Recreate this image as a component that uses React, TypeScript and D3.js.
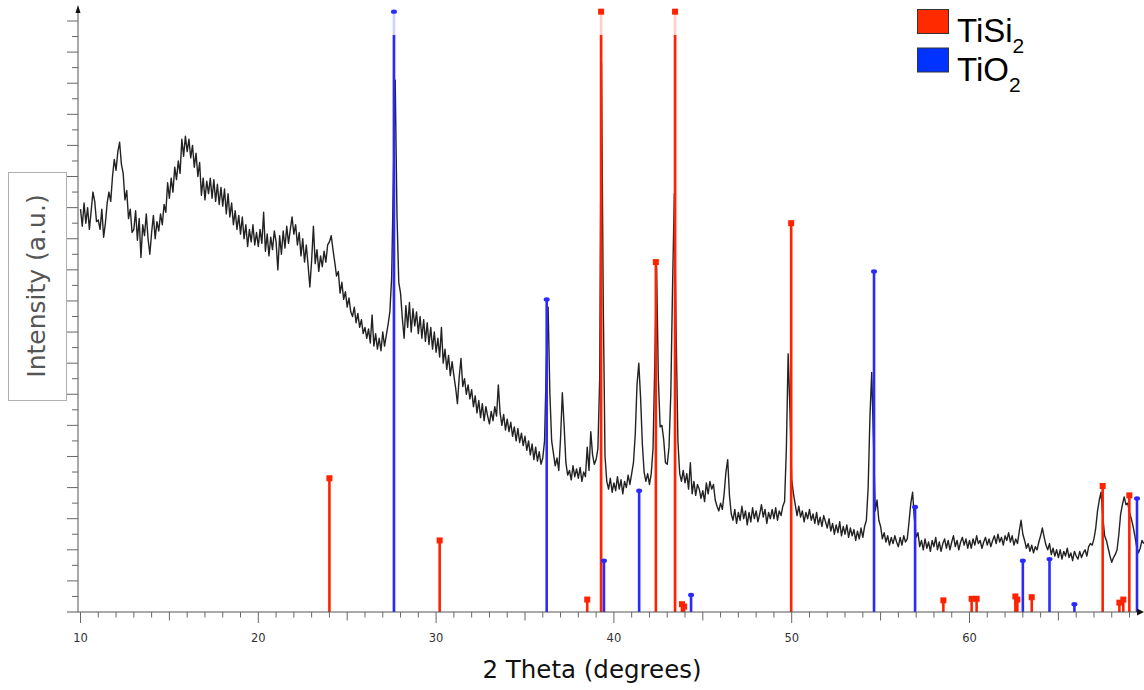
import React from 'react'
import * as d3 from 'd3'

const WIDTH = 1144
const HEIGHT = 690

// measured pattern, step scan from 10 deg, 0.1 deg step (a.u.)
const THETA_START = 10
const THETA_STEP = 0.1
const intensity = [
  25.9, 24.8, 26.3, 25.0, 26.0, 24.6, 25.8, 27.0, 26.4, 25.1,
  25.2, 24.6, 25.9, 24.1, 25.0, 26.3, 27.0, 26.4, 28.0, 29.1,
  28.4, 29.6, 30.2, 28.8, 28.2, 26.5, 27.1, 25.3, 25.9, 24.4,
  24.6, 25.8, 23.9, 25.3, 22.8, 24.9, 24.2, 25.6, 24.0, 23.0,
  24.4, 25.5, 24.0, 25.1, 24.5, 25.6, 24.9, 26.2, 25.7, 27.6,
  26.6, 27.9, 27.0, 28.6, 27.8, 29.0, 28.2, 30.4, 29.3, 30.6,
  29.6, 30.4, 29.2, 30.0, 28.6, 29.5, 28.0, 28.9, 26.8, 27.9,
  26.5, 27.7, 26.9, 27.9, 26.6, 27.8, 26.4, 27.5, 26.2, 27.3,
  26.1, 27.2, 25.6, 26.9, 25.4, 26.3, 24.9, 25.8, 24.6, 25.5,
  24.3, 25.4, 24.0, 24.9, 23.5, 24.6, 23.8, 24.9, 23.6, 24.4,
  23.5, 24.6, 23.7, 25.7, 23.2, 24.3, 22.9, 24.1, 23.3, 24.5,
  23.8, 22.0, 24.2, 23.0, 24.5, 23.4, 24.8, 23.7, 24.6, 25.4,
  24.3, 24.9, 23.6, 24.4, 22.9, 24.0, 22.5, 23.6, 22.3, 20.9,
  22.6, 24.8, 22.4, 23.3, 21.9, 22.9, 22.2, 23.2, 22.5, 23.6,
  23.8, 24.2, 23.3, 22.5, 21.6, 21.9, 20.5, 21.2, 20.1, 20.6,
  19.6, 20.2, 19.3, 19.0, 19.6, 18.6, 19.2, 18.3, 18.8, 17.9,
  18.3, 17.6, 18.2, 17.3, 19.1, 17.1, 17.9, 16.9, 17.6, 16.8,
  18.0, 17.1, 17.8, 18.5, 19.3, 21.5, 28.0, 34.2, 25.5, 21.2,
  20.5, 18.9, 17.6, 19.7, 18.3, 19.9, 18.0, 19.5, 18.4, 19.3,
  17.9, 19.0, 17.6, 18.8, 17.4, 18.6, 17.2, 18.3, 16.9, 18.0,
  16.7, 17.6, 16.4, 18.3, 16.0, 16.9, 15.6, 16.5, 15.2, 16.1,
  15.2, 14.4, 13.4, 15.1, 16.3, 14.5, 15.0, 14.0, 14.6, 13.7,
  14.3, 13.2, 13.9, 12.8, 13.6, 12.5, 13.4, 12.3, 13.2, 12.6,
  12.1, 12.9, 12.3, 13.2, 12.6, 14.6, 12.8, 12.0, 12.7, 11.7,
  12.4, 11.6, 12.2, 11.3, 11.9, 11.0, 11.8, 10.9, 11.5, 10.7,
  11.3, 10.4, 11.0, 10.1, 10.8, 9.8, 10.6, 9.7, 10.3, 9.5,
  9.9, 11.0, 16.0, 19.6, 14.0, 11.0, 10.2, 9.4, 9.9, 9.1,
  11.2, 14.1, 12.0, 9.6, 8.8, 9.1, 8.5, 9.4, 8.7, 9.2,
  8.6, 9.3, 8.4, 9.0, 8.7, 10.6, 9.1, 11.6, 10.1, 9.5,
  9.8, 10.5, 15.0, 35.3, 20.0, 10.0, 8.4, 7.9, 8.6, 7.7,
  8.3, 7.8, 8.7, 7.9, 8.5, 7.6, 8.4, 8.0, 8.8, 8.2,
  8.9, 9.6, 11.4, 14.6, 16.0, 13.8, 10.8, 9.0, 8.4, 8.9,
  8.2, 8.9, 10.5, 16.0, 22.2, 15.0, 11.9, 12.0, 11.1, 9.6,
  9.5, 10.6, 14.0, 21.0, 26.9, 18.0, 11.0, 8.9, 8.4, 9.1,
  8.3, 8.9, 7.9, 9.6, 7.6, 8.4, 7.5, 8.2, 7.9, 7.3,
  7.8, 7.1, 8.3, 7.6, 8.4, 7.9, 8.2, 7.2, 6.8, 6.5,
  7.0, 6.6, 7.6, 9.0, 9.8, 7.5, 6.3, 5.9, 6.6, 5.7,
  6.4, 5.9, 6.8, 6.0, 6.5, 5.6, 6.4, 5.8, 6.7, 6.0,
  6.5, 5.8, 6.3, 6.9, 6.1, 6.6, 5.7, 6.4, 6.0, 6.6,
  6.0, 6.7, 5.9, 6.5, 6.2, 6.8, 7.1, 10.5, 16.6, 13.0,
  8.5, 7.6, 6.9, 6.2, 6.8, 6.1, 6.5, 5.8, 6.4, 6.0,
  6.6, 5.9, 6.3, 5.7, 6.4, 5.6, 6.1, 5.5, 6.2, 5.8,
  5.4, 6.0, 5.2, 5.7, 5.0, 5.6, 5.1, 5.8, 4.9, 5.5,
  5.0, 5.6, 4.8, 5.4, 4.9, 5.3, 4.6, 5.2, 4.7, 5.4,
  4.8, 5.5, 5.9, 8.0, 12.5, 15.4, 11.0, 6.5, 7.2, 5.9,
  5.5, 4.7, 5.1, 4.5, 4.9, 4.3, 4.8, 4.4, 4.9, 4.5,
  4.2, 4.8, 4.3, 4.9, 4.5, 4.7, 5.8, 7.0, 7.7, 6.0,
  4.8, 5.1, 4.2, 4.6, 4.0, 4.7, 4.1, 4.5, 3.9, 4.6,
  4.2, 4.8, 4.0, 4.5, 3.9, 4.4, 4.7, 4.1, 4.6, 4.0,
  4.5, 4.9, 4.2, 4.6, 4.0, 4.5, 4.8, 4.3, 4.7, 4.1,
  4.6, 4.1, 4.7, 4.3, 4.9, 4.4, 4.6, 4.1, 4.5, 4.8,
  4.3, 4.7, 4.2, 4.6, 4.9, 4.4, 5.0, 4.5, 4.8, 4.3,
  4.9, 4.6, 5.1, 4.5, 4.9, 4.3, 4.7, 4.4, 5.2, 5.9,
  5.0, 4.6, 4.1, 4.4, 3.9, 4.3, 3.8, 4.2, 4.0, 4.5,
  4.9, 5.4, 4.8, 4.3, 4.0, 4.4, 3.7, 4.1, 3.6, 4.0,
  3.5, 4.0, 3.4, 3.9, 3.6, 4.1, 3.5, 3.8, 3.3, 3.9,
  3.6, 3.4, 3.9, 3.5, 3.8, 4.0, 3.6, 4.2, 4.4, 4.3,
  4.7, 5.4, 6.5, 7.2, 7.7, 6.1, 4.9, 4.6, 4.1, 3.6,
  3.2, 3.5, 3.7, 4.0, 5.0, 6.3, 6.9, 7.4, 6.9, 7.0,
  6.4, 6.0, 5.5, 4.9, 4.2, 3.8, 4.1, 4.6, 4.4,
]

// reference patterns
const tisi2Theta = [24.0, 30.2, 38.5, 39.28, 42.36, 43.44, 43.83, 43.95, 49.97, 58.53, 60.12, 60.4, 62.58, 62.69, 63.5, 67.49, 68.43, 68.65, 68.99]
const tisi2Height = [8.6, 4.6, 0.8, 38.6, 22.5, 38.6, 0.5, 0.35, 25.0, 0.75, 0.85, 0.85, 1.0, 0.8, 0.95, 8.1, 0.6, 0.8, 7.5]
const tio2Theta = [27.63, 36.22, 39.44, 41.42, 44.34, 54.63, 56.94, 63.0, 64.5, 65.9, 69.42]
const tio2Height = [38.6, 20.1, 3.3, 7.8, 1.1, 21.9, 6.75, 3.3, 3.4, 0.5, 7.3]

const xLabels = [10, 20, 30, 40, 50, 60]
const legendNames = ['TiSi', 'TiO']

const RED = '#ff2200'
const BLUE = '#2a2aff'
const STICK_SOLID_MAX = 37.1

const App = () => {
  const x = d3.scaleLinear().domain([10, 70]).range([80.5, 1147.3])
  const y = d3.scaleLinear().domain([0, 38.9]).range([612, 7])

  const points: [number, number][] = intensity.map((v, i) => [THETA_START + i * THETA_STEP, v])
  const path = d3.line<[number, number]>()
    .x(d => x(d[0]))
    .y(d => y(d[1]))(points)

  const xTicks = d3.range(10, 70)
  const yTicks = d3.range(1, 39)

  const sticks = (thetas: number[], heights: number[], color: string, kind: string) =>
    thetas.map((t, i) => {
      const h = heights[i]
      const cx = x(t)
      const solidTop = y(Math.min(h, STICK_SOLID_MAX))
      return (
        <g key={kind + i}>
          {h > STICK_SOLID_MAX && (
            <line x1={cx} x2={cx} y1={y(0)} y2={y(h)} stroke={color} strokeWidth={2.6} strokeOpacity={0.22} />
          )}
          <line x1={cx} x2={cx} y1={y(0)} y2={solidTop} stroke={color} strokeWidth={2.6} />
          {kind === 'sq'
            ? <rect x={cx - 3} y={y(h) - 3} width={6} height={6} fill={color} />
            : <ellipse cx={cx} cy={y(h)} rx={3} ry={2.2} fill={color} />}
        </g>
      )
    })

  return (
    <svg width={WIDTH} height={HEIGHT} style={{ position: 'absolute', left: 0, top: 0, background: 'white' }}>
      {/* y label box */}
      <rect x={8.5} y={172.5} width={58} height={228} fill="white" stroke="#b0b0b0" />
      <text transform="translate(45,286) rotate(-90)" textAnchor="middle"
        style={{ fontFamily: 'DejaVu Sans', fontSize: 25, fill: '#555' }}>Intensity (a.u.)</text>

      {/* data */}
      <path d={path || ''} fill="none" stroke="#222" strokeWidth={1.4} strokeLinejoin="round" />

      {sticks(tisi2Theta, tisi2Height, RED, 'sq')}
      {sticks(tio2Theta, tio2Height, BLUE, 'dot')}

      {/* y axis */}
      <g>
        <line x1={78} x2={78} y1={612} y2={10} stroke="#555" />
        <polygon points="78,5 75.5,13 80.5,13" fill="#111" />
        {yTicks.map(k => (
          <line key={k} x1={k % 2 === 0 ? 67 : 72} x2={78} y1={y(k)} y2={y(k)} stroke="#666" />
        ))}
      </g>

      {/* x axis */}
      <g>
        <line x1={67} x2={1140} y1={612} y2={612} stroke="#555" />
        <polygon points="1144,612 1137,608.5 1137,615.5" fill="#111" />
        {xTicks.map(t => (
          <line key={t} x1={x(t)} x2={x(t)} y1={612} y2={t % 10 === 0 ? 623 : t % 5 === 0 ? 620.5 : 617.5} stroke="#666" />
        ))}
        {xLabels.map(t => (
          <text key={t} x={x(t)} y={642} textAnchor="middle"
            style={{ fontFamily: 'DejaVu Sans', fontSize: 11.5, fill: '#333' }}>{t}</text>
        ))}
        <text x={592} y={678} textAnchor="middle"
          style={{ fontFamily: 'DejaVu Sans', fontSize: 24.5, fill: '#111' }}>2 Theta (degrees)</text>
      </g>

      {/* legend */}
      {legendNames.map((name, i) => (
        <g key={name} transform={`translate(0, ${i * 38.5})`}>
          <rect x={917.5} y={9.5} width={31} height={24} fill={i === 0 ? '#ff2a00' : '#0033ff'} stroke="#333" />
          <text x={957} y={42} style={{ fontFamily: 'Liberation Sans', fontSize: 33, fill: '#000' }}>
            {name}
            <tspan dy={11} style={{ fontSize: 21 }}>2</tspan>
          </text>
        </g>
      ))}
    </svg>
  )
}

export default App
